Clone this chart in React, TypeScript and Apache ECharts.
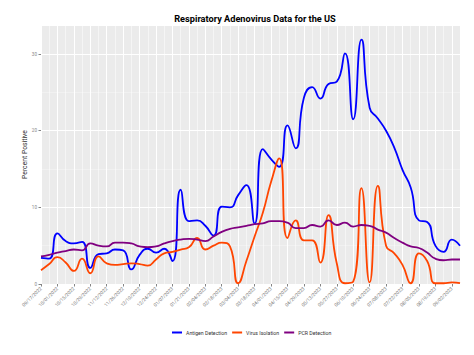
import React, { useEffect, useRef } from "react";
import * as echarts from "echarts";

const weeks = [
  "09/17/2022", "09/24/2022", "10/01/2022", "10/08/2022", "10/15/2022", "10/22/2022",
  "10/29/2022", "11/05/2022", "11/12/2022", "11/19/2022", "11/26/2022", "12/03/2022",
  "12/10/2022", "12/17/2022", "12/24/2022", "12/31/2022", "01/07/2023", "01/14/2023",
  "01/21/2023", "01/28/2023", "02/04/2023", "02/11/2023", "02/18/2023", "02/25/2023",
  "03/04/2023", "03/11/2023", "03/18/2023", "03/25/2023", "04/01/2023", "04/08/2023",
  "04/15/2023", "04/22/2023", "04/29/2023", "05/06/2023", "05/13/2023", "05/20/2023",
  "05/27/2023", "06/03/2023", "06/10/2023", "06/17/2023", "06/24/2023", "07/01/2023",
  "07/08/2023", "07/15/2023", "07/22/2023", "07/29/2023", "08/05/2023", "08/12/2023",
  "08/19/2023", "08/26/2023", "09/02/2023", "09/09/2023",
];

const antigen = [
  3.4, 3.3, 6.6, 5.6, 5.3, 5.5, 2.1, 3.9, 4.0, 4.5, 4.4, 1.9, 3.8,
  4.6, 4.1, 4.6, 3.0, 12.3, 8.2, 8.3, 7.6, 6.3, 10.1, 10.0, 11.6, 12.9,
  7.9, 17.6, 16.3, 15.3, 20.7, 17.7, 24.3, 25.7, 24.2, 26.1, 26.4, 30.1,
  21.5, 31.9, 23.0, 21.6, 20.0, 17.8, 14.9, 12.6, 8.3, 8.1, 5.0, 4.2, 5.8, 5.0,
];

const virusIsolation = [
  1.8, 2.6, 3.5, 2.8, 1.7, 3.3, 1.4, 3.6, 2.7, 2.5, 2.6, 2.7, 2.6,
  2.4, 3.2, 4.0, 4.2, 4.5, 4.8, 6.0, 4.5, 5.0, 5.4, 4.9, 0.1, 3.0,
  6.2, 9.3, 13.3, 16.4, 6.0, 8.3, 5.7, 5.7, 2.8, 9.0, 2.7, 0.1,
  0.3, 12.5, 0.2, 12.8, 5.0, 4.0, 2.5, 0.1, 4.0, 3.0, 0.1, 0.1, 0.2, 0.1,
];

const pcr = [
  3.6, 3.8, 4.1, 4.3, 4.5, 4.4, 5.3, 5.0, 4.9, 5.4, 5.4, 5.3, 4.9,
  4.8, 4.9, 5.3, 5.6, 5.8, 5.9, 5.8, 5.6, 6.2, 6.8, 7.2, 7.4, 7.6,
  7.8, 7.9, 8.2, 8.2, 8.0, 7.3, 7.3, 7.7, 7.5, 8.3, 7.7, 8.0,
  7.5, 7.7, 7.6, 7.1, 6.7, 6.0, 5.4, 4.9, 4.7, 4.1, 3.3, 3.1, 3.2, 3.2,
];

const seriesNames = ["Antigen Detection", "Virus Isolation", "PCR Detection"];
const seriesColors = ["#0000FF", "#FF4500", "#800080"];

export default function App() {
  const ref = useRef<HTMLDivElement>(null);
  useEffect(() => {
    if (!ref.current) return;
    const chart = echarts.init(ref.current, undefined, { renderer: "svg" });
    const values = [antigen, virusIsolation, pcr];
    chart.setOption({
      animation: false,
      backgroundColor: "#FFFFFF",
      textStyle: { fontFamily: "Roboto" },
      title: {
        text: "Respiratory Adenovirus Data for the US",
        left: 250,
        top: 9,
        textAlign: "center",
        textStyle: { fontSize: 9.2, fontWeight: "bold", color: "#000", fontFamily: "Roboto" },
      },
      grid: { left: 41, right: 14, top: 25, bottom: 71, show: true, backgroundColor: "#EBEBEB", borderWidth: 0 },
      legend: {
        data: seriesNames,
        left: 167,
        top: 325,
        icon: "rect",
        itemWidth: 10,
        itemHeight: 2,
        itemGap: 5,
        textStyle: { fontSize: 5.2, color: "#333", fontFamily: "Roboto", padding: [0, 0, 0, -1] },
      },
      xAxis: [
        {
          type: "category",
          data: weeks,
          boundaryGap: false,
          axisLine: { show: false },
          axisTick: { show: true, interval: 1, length: 2.5, lineStyle: { color: "#333", width: 0.6 } },
          axisLabel: { interval: 1, rotate: 45, fontSize: 4.8, color: "#777", margin: 4, fontFamily: "Roboto" },
          splitLine: { show: true, interval: 1, lineStyle: { color: "#FFFFFF", width: 1 } },
        },
        {
          type: "category",
          data: weeks,
          boundaryGap: false,
          position: "bottom",
          axisLine: { show: false },
          axisTick: { show: false },
          axisLabel: { show: false },
          splitLine: { show: true, interval: 0, lineStyle: { color: "#FFFFFF", width: 0.5 } },
        },
      ],
      yAxis: {
        type: "value",
        min: 0,
        max: 33.8,
        interval: 10,
        name: "Percent Positive",
        nameLocation: "middle",
        nameGap: 13,
        nameMoveOverlap: false,
        nameTextStyle: { fontSize: 6.8, color: "#333", fontFamily: "Roboto" },
        axisLine: { show: false },
        axisTick: { show: true, length: 2.5, lineStyle: { color: "#333", width: 0.6 } },
        axisLabel: { fontSize: 4.6, color: "#888", margin: 4, showMaxLabel: false, fontFamily: "Roboto",
          formatter: (v: number) => (v % 10 === 0 ? String(v) : "") },
        splitLine: { show: true, lineStyle: { color: "#FFFFFF", width: 1 } },
        minorTick: { show: false, splitNumber: 2 },
        minorSplitLine: { show: true, lineStyle: { color: "#F7F7F7", width: 0.5 } },
      },
      series: seriesNames.map((name, k) => ({
        name,
        type: "line",
        data: values[k],
        smooth: 0.55,
        showSymbol: false,
        symbol: "none",
        clip: true,
        lineStyle: { color: seriesColors[k], width: 1.8 },
        itemStyle: { color: seriesColors[k] },
      })),
    });
    return () => chart.dispose();
  }, []);
  return <div ref={ref} style={{ width: 474, height: 355, position: "absolute", left: 0, top: 0 }} />;
}
